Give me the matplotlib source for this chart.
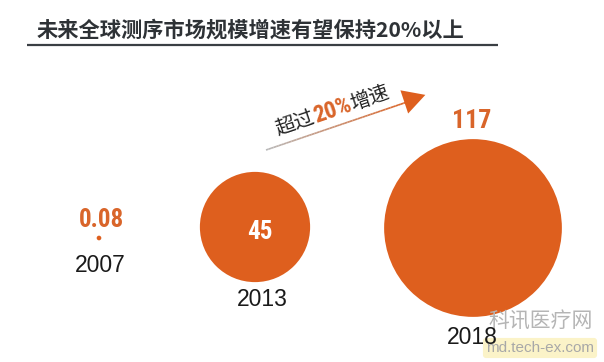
import matplotlib
matplotlib.use("Agg")
import matplotlib.pyplot as plt
import numpy as np
from matplotlib.collections import LineCollection
from matplotlib import font_manager as fm

plt.rcParams['font.family'] = ['Noto Sans CJK SC', 'DejaVu Sans']

# data
years = ["2007", "2013", "2018"]
values = [0.08, 45, 117]
value_labels = ["0.08", "45", "117"]
title = "未来全球测序市场规模增速有望保持20%以上"

# layout (pixel space of the 604x362 canvas)
x_pos = [99, 255, 473]
y_pos = [238, 227, 228]
ORANGE = "#DE5F1E"
NUM_ORANGE = "#D9652A"

names = {f.name for f in fm.fontManager.ttflist}
cond = None
for cand in ["Liberation Sans Narrow", "Roboto Condensed", "Open Sans Condensed", "DejaVu Sans Condensed"]:
    if cand in names:
        cond = cand
        break

fig = plt.figure(figsize=(6.04, 3.62), dpi=100)
ax = fig.add_axes([0, 0, 1, 1])
ax.set_xlim(0, 604)
ax.set_ylim(362, 0)
ax.axis("off")

# bubbles: area proportional to value
k = 140.0
sizes = [v * k for v in values]
ax.scatter(x_pos, y_pos, s=sizes, color=ORANGE, edgecolors="none", zorder=2)

# title + underline
ax.text(37, 30, title, fontsize=15.3, fontweight="bold", color="#2E3236",
        ha="left", va="center")
ax.plot([27, 498], [45, 45], color="#3a3f44", lw=1.6, solid_capstyle="butt")

if cond:
    numfont = dict(family=[cond, "DejaVu Sans"], fontweight="bold")
else:
    numfont = dict(family=["DejaVu Sans"], fontweight="bold", fontstretch="condensed")
# value labels
ax.text(x_pos[0] + 3, 220, value_labels[0], fontsize=18, color=NUM_ORANGE,
        ha="center", va="center", **numfont)
ax.text(x_pos[1] + 5, 232, value_labels[1], fontsize=18, color="white",
        ha="center", va="center", **numfont)
ax.text(x_pos[2] - 1, 121, value_labels[2], fontsize=18.5, color=NUM_ORANGE,
        ha="center", va="center", **numfont)

# year labels
yearfont = dict(family=["Liberation Sans", "DejaVu Sans"])
ax.text(x_pos[0] + 1, 266, years[0], fontsize=16.5, color="#1a1a1a",
        ha="center", va="center", **yearfont)
ax.text(x_pos[1] + 7, 299, years[1], fontsize=16.5, color="#1a1a1a",
        ha="center", va="center", **yearfont)
ax.text(x_pos[2] - 1, 338, years[2], fontsize=16.5, color="#1a1a1a",
        ha="center", va="center", zorder=4, **yearfont)

# gradient arrow
x0, y0, x1, y1 = 266, 150, 416, 99
n = 60
xs = np.linspace(x0, x1, n)
ys = np.linspace(y0, y1, n)
segs = [[(xs[i], ys[i]), (xs[i + 1], ys[i + 1])] for i in range(n - 1)]
c0 = np.array(matplotlib.colors.to_rgb("#b8b8b8"))
c1 = np.array(matplotlib.colors.to_rgb(ORANGE))
cols = [tuple(c0 + (c1 - c0) * t) for t in np.linspace(0, 1, n - 1)]
ax.add_collection(LineCollection(segs, colors=cols, linewidths=1.2))
ax.annotate("", xy=(428, 94), xytext=(410, 100),
            arrowprops=dict(arrowstyle="-|>,head_length=1.0,head_width=0.55",
                            color=ORANGE, lw=0, mutation_scale=16))

# rotated mixed-colour label placed piece by piece along the arrow direction
ang = np.degrees(np.arctan2(y0 - y1, x1 - x0))
rad = np.radians(ang)
d = np.array([np.cos(rad), -np.sin(rad)])
pieces = [("超过", dict(fontsize=14.5, color="#222222")),
          ("20%", dict(fontsize=17, color=NUM_ORANGE, **numfont)),
          ("增速", dict(fontsize=14.5, color="#222222"))]
fig.canvas.draw()
r = fig.canvas.get_renderer()
widths = []
for s, kw in pieces:
    t = ax.text(0, 0, s, **kw)
    widths.append(t.get_window_extent(r).width)
    t.remove()
start = np.array([276.0, 130.0])  # left-middle of first piece
pos = 0.0
for (s, kw), w in zip(pieces, widths):
    c = start + d * (pos + w / 2)
    ax.text(c[0], c[1], s, rotation=ang, rotation_mode="anchor",
            ha="center", va="center", **kw)
    pos += w

# watermark
ax.text(541, 322, "科讯医疗网", fontsize=15, color="#b5b5b5",
        ha="center", va="center", zorder=3)
ax.text(540, 348, "md.tech-ex.com", fontsize=11, color="#a8a8a8",
        ha="center", va="center", zorder=3,
        family=["Liberation Sans", "DejaVu Sans"],
        bbox=dict(boxstyle="round,pad=0.2", fc="#fbf3c8", ec="none"))

fig.savefig("out.png", dpi=100)
